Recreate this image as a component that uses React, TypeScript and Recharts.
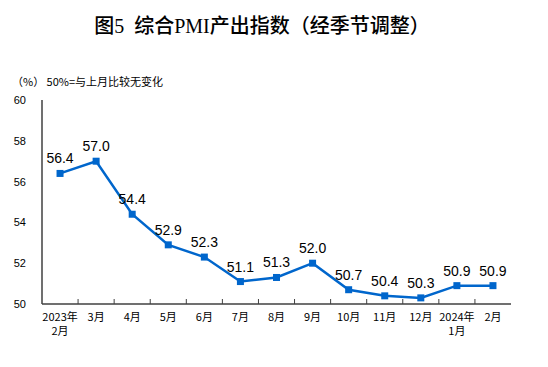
import React from 'react';
import { LineChart, Line, XAxis, YAxis, LabelList } from 'recharts';

const months = ['2023年\n2月', '3月', '4月', '5月', '6月', '7月', '8月', '9月', '10月', '11月', '12月', '2024年\n1月', '2月'];
const pmiValues = [56.4, 57.0, 54.4, 52.9, 52.3, 51.1, 51.3, 52.0, 50.7, 50.4, 50.3, 50.9, 50.9];
const yTicks = [50, 52, 54, 56, 58, 60];

const data = months.map((m, i) => ({ month: m, pos: i + 0.5, value: pmiValues[i] }));

const AXIS = '#404040';
const BLUE = '#0066cc';
const CN = '"Noto Sans CJK SC", sans-serif';

// label + inward boundary tick on the left edge of each category
function MonthTick({ x, y, payload, width, index }: any) {
  const idx = Math.round(payload.value - 0.5);
  const lines = (months[idx] || '').split('\n');
  const half = (width || 469) / months.length / 2;
  return (
    <g>
      {index > 0 && <line x1={x - half} x2={x - half} y1={y} y2={y - 5} stroke={AXIS} strokeWidth={1} />}
      {lines.map((l, i) => (
        <text key={i} x={x} y={y + 17 + i * 14} textAnchor="middle" fontSize={11} fill="#000" fontFamily={CN}>{l}</text>
      ))}
    </g>
  );
}

function SquareDot({ cx, cy }: any) {
  if (cx == null || cy == null) return null;
  return <rect x={cx - 3.5} y={cy - 3.5} width={7} height={7} fill={BLUE} />;
}

export default function App() {
  return (
    <div style={{ position: 'relative', width: 548, height: 367, margin: -8, background: '#fff' }}>
      <div style={{ position: 'absolute', top: 10, left: -12, width: 548, textAlign: 'center', fontSize: 20, fontWeight: 500, fontFamily: '"Liberation Serif", "Noto Sans CJK SC", serif', color: '#000' }}>
        图5&nbsp;&nbsp;综合PMI产出指数（经季节调整）
      </div>
      <div style={{ position: 'absolute', top: 73, left: 12, fontSize: 11, fontFamily: CN, color: '#000' }}>
        （%）&nbsp;50%=与上月比较无变化
      </div>
      <LineChart width={548} height={367} data={data} margin={{ top: 100, right: 37, left: 0, bottom: 23 }}>
        <XAxis type="number" dataKey="pos" domain={[0, 13]} ticks={data.map(d => d.pos)}
          tick={<MonthTick />} tickLine={false} tickSize={0} tickMargin={0} interval={0} height={40}
          axisLine={{ stroke: AXIS, strokeWidth: 1.5 }} />
        <XAxis xAxisId="top" orientation="top" type="number" dataKey="pos" domain={[0, 13]}
          tick={false} tickLine={false} height={0} axisLine={{ stroke: AXIS, strokeWidth: 1.5 }} />
        <YAxis domain={[50, 60]} ticks={yTicks} width={42} tickLine={false} tickMargin={10}
          axisLine={{ stroke: AXIS, strokeWidth: 1.5 }}
          tick={{ fontSize: 11, fill: '#000', fontFamily: '"Liberation Sans", sans-serif' }} />
        <YAxis yAxisId="r" orientation="right" domain={[50, 60]} width={0} tick={false} tickLine={false}
          axisLine={{ stroke: AXIS, strokeWidth: 1.5 }} />
        <Line type="linear" dataKey="value" stroke={BLUE} strokeWidth={2.5}
          dot={<SquareDot />} activeDot={false} isAnimationActive={false}>
          <LabelList dataKey="value" position="top" offset={10} fontSize={14} fill="#000"
            fontFamily='"Liberation Sans", Arial, sans-serif' formatter={(v: any) => Number(v).toFixed(1)} />
        </Line>
        <Line xAxisId="top" dataKey="value" stroke="none" dot={false} activeDot={false} isAnimationActive={false} />
      </LineChart>
    </div>
  );
}
